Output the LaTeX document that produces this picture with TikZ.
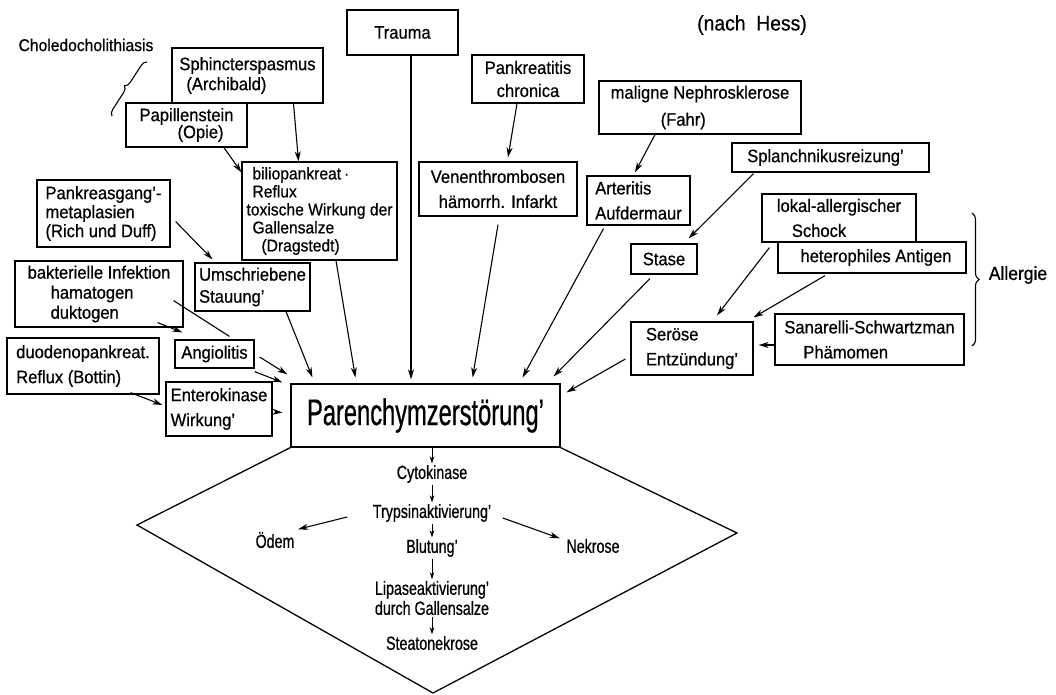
\documentclass[tikz,border=0pt]{standalone}
\usepackage{fontspec}
\setmainfont{Liberation Sans}
\newfontfamily\boxfont[FakeStretch=0.92,FakeBold=0.6]{Liberation Sans}
\newfontfamily\kettefont[FakeStretch=0.75,FakeBold=0.6]{Liberation Sans}
\newfontfamily\grossfont[FakeStretch=0.64,FakeBold=0.6]{Liberation Sans}
\usepackage{tikz}
\usetikzlibrary{arrows.meta,positioning,calc,decorations.pathreplacing}
\tikzset{
  kasten/.style  = {draw, line width=1.2pt, align=left, inner sep=2pt,
                    font=\boxfont\fontsize{18}{22}\selectfont},
  kette/.style   = {align=center, inner sep=1.5pt,
                    font=\kettefont\fontsize{19}{20}\selectfont},
  notiz/.style   = {font=\boxfont\fontsize{17}{20}\selectfont, inner sep=1pt},
  pfeil/.style   = {-{Stealth[length=10pt,width=6pt,inset=3pt]}, line width=1.1pt},
  kpfeil/.style  = {-{Stealth[length=7pt,width=4.5pt,inset=2pt]}, line width=1pt},
  linie/.style   = {line width=1.1pt},
  klammer/.style = {decorate, decoration={brace, amplitude=7pt}, line width=1.1pt},
}
\begin{document}
\begin{tikzpicture}[x=1pt, y=-1pt]
  \path[use as bounding box, fill=white] (0,0) rectangle (1056,695);

  % linke Seite
  \node[notiz] (chole) at (86,45) {Choledocholithiasis};
  \node[kasten, minimum width=151pt, minimum height=55pt, font=\boxfont\fontsize{18}{20}\selectfont]
    (sphinc) at (247.5,75.5) {Sphincterspasmus\\\hspace*{7pt}(Archibald)};
  \node[kasten, minimum width=121pt, minimum height=44pt, font=\boxfont\fontsize{18}{17}\selectfont]
    (papill) at (186.5,125) {Papillenstein\\\hspace*{38pt}(Opie)};
  \node[kasten, minimum width=155pt, minimum height=98pt, font=\boxfont\fontsize{17}{18}\selectfont]
    (bilio) at (319.5,211) {\hspace*{6pt}biliopankreat\,·\\\hspace*{6pt}Reflux\\toxische Wirkung der\\\hspace*{6pt}Gallensalze\\\hspace*{15pt}(Dragstedt)};
  \node[kasten, minimum width=133pt, minimum height=67pt, font=\boxfont\fontsize{18}{19}\selectfont]
    (pgang) at (103.5,213.5) {Pankreasgang’-\\metaplasien\\(Rich und Duff)};
  \node[kasten, minimum width=115pt, minimum height=48pt] (umschr) at (252.5,287) {Umschriebene\\Stauung’};
  \node[kasten, minimum width=168pt, minimum height=66pt, font=\boxfont\fontsize{18}{20}\selectfont]
    (bakt) at (99,294) {bakterielle Infektion\\\hspace*{23pt}hamatogen\\\hspace*{23pt}duktogen};
  \node[kasten, minimum width=79pt, minimum height=28pt] (angio) at (214.5,354) {Angiolitis};
  \node[kasten, minimum width=152pt, minimum height=56pt, font=\boxfont\fontsize{18}{25}\selectfont]
    (duoden) at (83,366) {duodenopankreat.\\Reflux (Bottin)};
  \node[kasten, minimum width=106pt, minimum height=54pt, font=\boxfont\fontsize{18}{25}\selectfont]
    (entero) at (219,409) {Enterokinase\\Wirkung’};

  % Mitte
  \node[kasten, minimum width=111pt, minimum height=45pt] (trauma) at (402.5,32.5) {Trauma};
  \node[notiz, font=\boxfont\fontsize{21}{22}\selectfont] (hess) at (752,25) {(nach\ \ Hess)};
  \node[kasten, align=center, minimum width=112pt, minimum height=48pt, font=\boxfont\fontsize{18}{23}\selectfont]
    (pankr) at (528,79) {Pankreatitis\\chronica};
  \node[kasten, align=center, minimum width=158pt, minimum height=54pt, font=\boxfont\fontsize{18}{25}\selectfont]
    (venen) at (498,189) {Venenthrombosen\\hämorrh. Infarkt};
  \node[kasten, minimum width=269pt, minimum height=63pt, font=\grossfont\fontsize{37}{40}\selectfont]
    (parench) at (425.5,415.5) {Parenchymzerstörung’};

  % rechte Seite
  \node[kasten, minimum width=202pt, minimum height=53pt, font=\boxfont\fontsize{18}{27}\selectfont]
    (nephro) at (700,107.5) {maligne Nephrosklerose\\\hspace*{50pt}(Fahr)};
  \node[kasten, minimum width=103pt, minimum height=49pt, font=\boxfont\fontsize{18}{25}\selectfont]
    (arter) at (638.5,200.5) {Arteritis\\Aufdermaur};
  \node[kasten, minimum width=197pt, minimum height=29pt] (splan) at (830.5,157.5) {Splanchnikusreizung’\hspace*{10pt}};
  \node[kasten, minimum width=66pt, minimum height=30pt] (stase) at (664,259) {Stase};
  \node[kasten, minimum width=154pt, minimum height=48pt, font=\boxfont\fontsize{18}{25}\selectfont]
    (lokal) at (839,218) {lokal-allergischer\\\hspace*{15pt}Schock};
  \node[kasten, minimum width=188pt, minimum height=31pt] (hetero) at (872,257.5) {\hspace*{8pt}heterophiles Antigen};
  \node[kasten, minimum width=189pt, minimum height=51pt, font=\boxfont\fontsize{18}{25}\selectfont]
    (sanar) at (869.5,339.5) {Sanarelli-Schwartzman\\\hspace*{19pt}Phämomen};
  \node[kasten, minimum width=122pt, minimum height=53pt, font=\boxfont\fontsize{18}{25}\selectfont]
    (seroes) at (692,348.5) {Seröse\\Entzündung’};
  \node[notiz, font=\boxfont\fontsize{19}{20}\selectfont] (allerg) at (1018,275) {Allergie};

  % Klammern
  \coordinate (cholu) at (112,116);
  \coordinate (choleo) at (147,62);
  \draw[klammer, decoration={amplitude=6pt}] (cholu) -- (choleo);
  \coordinate (allo) at (972,213);
  \coordinate (allu) at (972,346);
  \draw[klammer] (allo) -- (allu);

  % Pfeile links
  \draw[pfeil] ([xshift=46pt]sphinc.south) -- ([xshift=-21pt]bilio.north);
  \draw[pfeil] ([xshift=37.5pt]papill.south) -- ([yshift=-11pt]bilio.north west);
  \draw[pfeil] ([xshift=5pt,yshift=-8pt]pgang.east) -- ([xshift=-40pt,yshift=3pt]umschr.north);
  \draw[linie] ([xshift=-10pt,yshift=27pt]bakt.south east) -- ([xshift=55pt,yshift=3pt]angio.north west);
  \draw[pfeil] ([xshift=-26pt,yshift=5pt]bakt.south east) -- ([xshift=8pt,yshift=7pt]angio.north west);
  \draw[pfeil] ([xshift=5pt,yshift=-3pt]angio.east) -- ([xshift=-3pt,yshift=9pt]parench.north west);
  \draw[pfeil] ([yshift=-3pt]angio.south east) -- ([xshift=-8pt,yshift=1pt]parench.north west);
  \draw[pfeil] ([xshift=-29pt,yshift=2pt]duoden.south east) -- ([xshift=-3pt,yshift=4pt]entero.west);
  \draw[pfeil] ([xshift=3pt,yshift=-3pt]entero.east) -- ([xshift=-8pt,yshift=3pt]parench.west);
  \draw[pfeil] ([xshift=33.5pt]umschr.south) -- ([xshift=22pt,yshift=6pt]parench.north west);
  \draw[pfeil] ([xshift=16.5pt]bilio.south) -- ([xshift=65pt,yshift=6pt]parench.north west);

  % Pfeile Mitte
  \draw[pfeil] ([xshift=8.5pt]trauma.south) -- ([xshift=8.5pt,yshift=4pt]trauma.south |- parench.north);
  \draw[pfeil] ([xshift=-11pt]pankr.south) -- ([xshift=10pt,yshift=4pt]venen.north);
  \draw[pfeil] ([yshift=-8pt]venen.south) -- ([xshift=-88pt,yshift=6pt]parench.north east);

  % Pfeile rechts
  \draw[pfeil] ([xshift=-45pt]nephro.south) -- ([xshift=-3.5pt,yshift=3pt]arter.north);
  \draw[pfeil] ([xshift=-35pt,yshift=-3pt]arter.south) -- ([xshift=-38pt,yshift=6pt]parench.north east);
  \draw[pfeil] ([xshift=-77pt,yshift=-1pt]splan.south) -- ([xshift=-9pt,yshift=5pt]stase.north east);
  \draw[pfeil] ([xshift=-14pt,yshift=-4pt]stase.south) -- ([xshift=-7pt,yshift=7pt]parench.north east);
  \draw[pfeil] ([xshift=8pt,yshift=-5pt]lokal.south west) -- ([xshift=25pt,yshift=6pt]seroes.north);
  \draw[pfeil] ([xshift=-47pt,yshift=-2pt]hetero.south) -- ([yshift=4pt]seroes.north east);
  \draw[pfeil] ([yshift=-5.5pt]sanar.west) -- ([xshift=5pt,yshift=3.5pt]seroes.east);
  \draw[pfeil] ([xshift=-5pt,yshift=-10.5pt]seroes.west) -- ([xshift=6pt,yshift=-9pt]parench.north east);

  % Raute unter dem Kasten
  \coordinate (rl) at (137,525);
  \coordinate (ru) at (433,693);
  \coordinate (rr) at (737,533);
  \draw[line width=1.3pt] (parench.south west) -- (rl) -- (ru) -- (rr) -- (parench.south east);

  \node[kette] (cyto) at (432,474) {Cytokinase};
  \node[kette] (tryp) at (432,513) {Trypsinaktivierung’};
  \node[kette] (blut) at (432,548) {Blutung’};
  \node[kette] (lipase) at (432,598) {Lipaseaktivierung’\\durch Gallensalze};
  \node[kette] (steato) at (432,643) {Steatonekrose};
  \node[kette] (oedem) at (275,540) {Ödem};
  \node[kette] (nekrose) at (593,546) {Nekrose};

  \draw[kpfeil] (cyto.north |- parench.south) -- (cyto.north);
  \draw[kpfeil] (cyto) -- (tryp);
  \draw[kpfeil] (tryp) -- (blut);
  \draw[kpfeil] (blut) -- (lipase);
  \draw[kpfeil] (lipase) -- (steato);
  \draw[pfeil] ([xshift=-24pt,yshift=-4pt]tryp.west) -- ([xshift=2pt,yshift=1pt]oedem.north east);
  \draw[pfeil] ([xshift=10pt,yshift=-5pt]tryp.east) -- ([xshift=-5pt,yshift=-1pt]nekrose.north west);
\end{tikzpicture}
\end{document}
